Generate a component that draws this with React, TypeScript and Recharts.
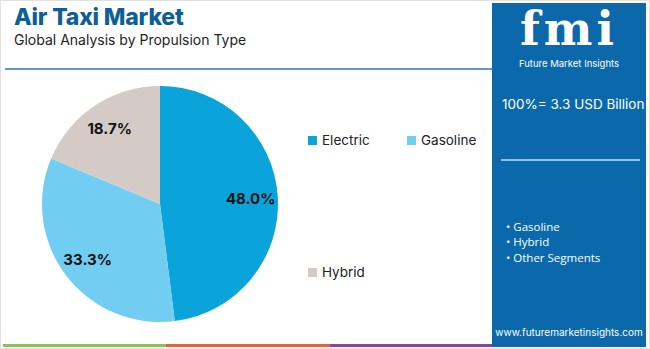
import React from "react";
import { PieChart, Pie, Cell, Legend } from "recharts";

const categories = ["Electric", "Gasoline", "Hybrid"];
const shares = [48.0, 33.3, 18.7];
const colors = ["#0aa3da", "#72cdf2", "#d5cbc6"];
const bullets = ["Gasoline", "Hybrid", "Other Segments"];
const totalLabel = "100%= 3.3 USD Billion";

const data = categories.map((name, i) => ({ name, value: shares[i] }));

const RAD = Math.PI / 180;
const renderLabel = (p: any) => {
  const r = p.outerRadius * 0.77;
  const x = p.cx + r * Math.cos(-p.midAngle * RAD);
  const y = p.cy + r * Math.sin(-p.midAngle * RAD);
  return (
    <text x={x} y={y} textAnchor="middle" dominantBaseline="central" fill="#111" fontSize={15} fontWeight={700} fontFamily="Inter, 'Open Sans', sans-serif">
      {`${p.value.toFixed(1)}%`}
    </text>
  );
};

const LegendContent = () => {
  const pos = [
    { left: 0, top: 0 },
    { left: 99, top: 0 },
    { left: 0, top: 132 },
  ];
  return (
    <div style={{ position: "relative", width: 0, height: 0, overflow: "visible" }}>
      {data.map((d, i) => (
        <div key={d.name} style={{ position: "absolute", left: pos[i].left, top: pos[i].top, display: "flex", alignItems: "center", whiteSpace: "nowrap", fontFamily: "Inter, 'Open Sans', sans-serif", fontSize: 13.5, color: "#222" }}>
          <span style={{ width: 9, height: 9, background: colors[i], display: "inline-block", marginRight: 5 }} />
          {d.name}
        </div>
      ))}
    </div>
  );
};

export default function App() {
  const font = "Inter, 'Open Sans', sans-serif";
  return (
    <div style={{ position: "absolute", left: 0, top: 0, width: 650, height: 349, background: "#fff", overflow: "hidden", fontFamily: font }}>
      <div style={{ position: "absolute", left: 0, top: 0, width: 648, height: 347, border: "1px solid #e2e2e2" }} />
      <div style={{ position: "absolute", left: 14, top: 3, fontSize: 23, fontWeight: 800, color: "#0d5f96", letterSpacing: -0.2 }}>Air Taxi Market</div>
      <div style={{ position: "absolute", left: 14, top: 31, fontSize: 14, color: "#222" }}>Global Analysis by Propulsion Type</div>
      <div style={{ position: "absolute", left: 5, top: 68, width: 488, height: 2, background: "#5e9bcb" }} />
      <div style={{ position: "absolute", left: 3, top: 344, width: 163, height: 3, background: "#8cc152" }} />
      <div style={{ position: "absolute", left: 166, top: 344, width: 164, height: 3, background: "#e0643a" }} />
      <div style={{ position: "absolute", left: 330, top: 344, width: 166, height: 3, background: "#8e3fa0" }} />
      <div style={{ position: "absolute", left: 492, top: 3, width: 154, height: 344, background: "#0b69ab" }}>
        <div style={{ position: "absolute", left: 0, width: 154, top: 4, height: 44, textAlign: "center", fontSize: 46, fontWeight: 900, color: "#fff", fontFamily: "'DejaVu Serif', serif", lineHeight: "44px", letterSpacing: 4 }}>fmi</div>
        <div style={{ position: "absolute", left: 0, width: 154, top: 55, lineHeight: "12px", textAlign: "center", fontSize: 9.5, color: "#fff" }}>Future Market Insights</div>
        <div style={{ position: "absolute", left: 10, top: 93, fontSize: 13.5, color: "#fff" }}>{totalLabel}</div>
        <div style={{ position: "absolute", left: 9, top: 156, width: 139, height: 2, background: "#8cc0e8" }} />
        {bullets.map((b, i) => (
          <div key={b} style={{ position: "absolute", left: 14, top: 216 + i * 14.5 + (i === 2 ? 2 : 0), fontSize: 11.5, color: "#fff", fontFamily: "'Open Sans', sans-serif" }}>• {b}</div>
        ))}
        <div style={{ position: "absolute", left: 0, width: 154, top: 323, textAlign: "center", fontSize: 10, color: "#fff" }}>www.futuremarketinsights.com</div>
      </div>
      <div style={{ position: "absolute", left: 0, top: 0 }}>
        <PieChart width={490} height={340} margin={{ top: 0, right: 0, bottom: 0, left: 0 }}>
          <Pie data={data} dataKey="value" nameKey="name" cx={160} cy={204} outerRadius={118} startAngle={90} endAngle={-270} stroke="none" label={renderLabel} labelLine={false} isAnimationActive={false}>
            {data.map((d, i) => (
              <Cell key={d.name} fill={colors[i]} />
            ))}
          </Pie>
          <Legend content={<LegendContent />} layout="vertical" verticalAlign="top" align="left" width={0} height={0} wrapperStyle={{ left: 308, top: 132, width: 0, height: 0 }} />
        </PieChart>
      </div>
    </div>
  );
}
